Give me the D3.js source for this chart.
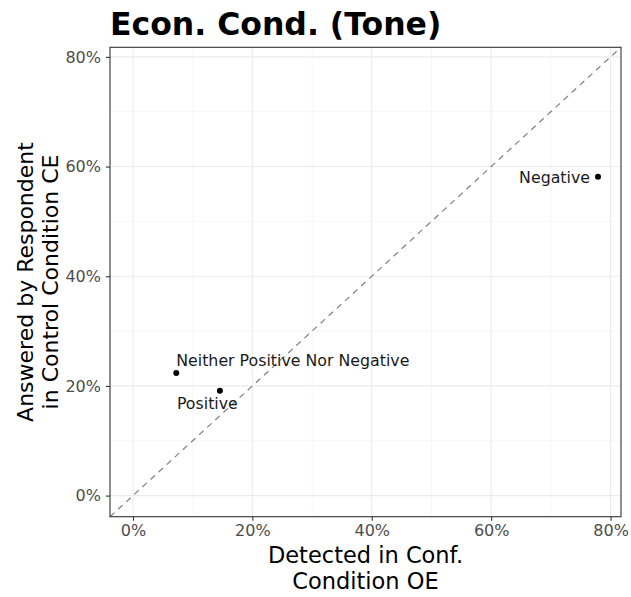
<!DOCTYPE html>
<html><head><meta charset="utf-8">
<script src="https://cdn.jsdelivr.net/npm/d3@7"></script>
<style>body{margin:0;background:#fff;} text{font-family:"DejaVu Sans",sans-serif;}</style>
</head><body>
<script>
const labels = ["Negative", "Neither Positive Nor Negative", "Positive"];
const xValues = [0.779, 0.0725, 0.1456];
const yValues = [0.5816, 0.2234, 0.191];
const tickValues = [0, 0.2, 0.4, 0.6, 0.8];
const minorTicks = [0.1, 0.3, 0.5, 0.7];
const title = "Econ. Cond. (Tone)";
const xTitle = ["Detected in Conf.", "Condition OE"];
const yTitle = ["Answered by Respondent", "in Control Condition CE"];

const W = 631, H = 597;
const P = {l: 110, r: 621, t: 47.3, b: 516.7};
const lo = -0.0385, hi = 0.8175;
const x = d3.scaleLinear().domain([lo, hi]).range([P.l, P.r]);
const y = d3.scaleLinear().domain([lo, hi]).range([P.b, P.t]);

const svg = d3.select("body").append("svg").attr("width", W).attr("height", H);

// gridlines
const g = svg.append("g");
g.selectAll(".vmin").data(minorTicks).join("line")
  .attr("x1", d => x(d)).attr("x2", d => x(d)).attr("y1", P.t).attr("y2", P.b)
  .attr("stroke", "#F2F2F2").attr("stroke-width", 0.6);
g.selectAll(".hmin").data(minorTicks).join("line")
  .attr("y1", d => y(d)).attr("y2", d => y(d)).attr("x1", P.l).attr("x2", P.r)
  .attr("stroke", "#F2F2F2").attr("stroke-width", 0.6);
g.selectAll(".vmaj").data(tickValues).join("line")
  .attr("x1", d => x(d)).attr("x2", d => x(d)).attr("y1", P.t).attr("y2", P.b)
  .attr("stroke", "#EBEBEB").attr("stroke-width", 1.1);
g.selectAll(".hmaj").data(tickValues).join("line")
  .attr("y1", d => y(d)).attr("y2", d => y(d)).attr("x1", P.l).attr("x2", P.r)
  .attr("stroke", "#EBEBEB").attr("stroke-width", 1.1);

// diagonal
svg.append("line")
  .attr("x1", x(lo)).attr("y1", y(lo)).attr("x2", x(hi)).attr("y2", y(hi))
  .attr("stroke", "#7F7F7F").attr("stroke-width", 1.2).attr("stroke-dasharray", "6,5");

// points
svg.selectAll(".pt").data(labels).join("circle")
  .attr("cx", (d, i) => x(xValues[i])).attr("cy", (d, i) => y(yValues[i]))
  .attr("r", 3).attr("fill", "#000");

// labels
const lab = [
  {dx: -8, dy: 0.5, anchor: "end"},
  {dx: 0, dy: -12.5, anchor: "start"},
  {dx: -43, dy: 12.5, anchor: "start"}
];
svg.selectAll(".lbl").data(labels).join("text")
  .attr("x", (d, i) => x(xValues[i]) + lab[i].dx)
  .attr("y", (d, i) => y(yValues[i]) + lab[i].dy)
  .attr("dy", "0.35em")
  .attr("text-anchor", (d, i) => lab[i].anchor)
  .attr("font-size", 15.8).attr("fill", "#1a1a1a")
  .text(d => d);

// panel border
svg.append("rect").attr("x", P.l).attr("y", P.t).attr("width", P.r - P.l).attr("height", P.b - P.t)
  .attr("fill", "none").attr("stroke", "#333").attr("stroke-width", 1.1);

// axes
const fmt = d3.format(".0%");
const xa = svg.append("g").attr("transform", `translate(0,${P.b})`)
  .call(d3.axisBottom(x).tickValues(tickValues).tickFormat(fmt).tickSize(4).tickPadding(4));
const ya = svg.append("g").attr("transform", `translate(${P.l},0)`)
  .call(d3.axisLeft(y).tickValues(tickValues).tickFormat(fmt).tickSize(4).tickPadding(5));
[xa, ya].forEach(a => {
  a.select(".domain").remove();
  a.selectAll(".tick line").attr("stroke", "#333").attr("stroke-width", 1.1);
  a.selectAll(".tick text").attr("fill", "#4D4D4D").attr("font-size", 16)
    .attr("font-family", "DejaVu Sans, sans-serif");
});

// titles
svg.append("text").attr("x", 110).attr("y", 35).attr("font-size", 31.5).attr("font-weight", "bold")
  .attr("fill", "#000").text(title);

const cx = (P.l + P.r) / 2;
svg.selectAll(".xt").data(xTitle).join("text")
  .attr("x", cx).attr("y", (d, i) => 562.5 + i * 26.6).attr("text-anchor", "middle")
  .attr("font-size", 22.5).attr("fill", "#000").text(d => d);

const cy = (P.t + P.b) / 2;
svg.selectAll(".yt").data(yTitle).join("text")
  .attr("transform", (d, i) => `translate(${33 + i * 24.5},${cy}) rotate(-90)`)
  .attr("text-anchor", "middle")
  .attr("font-size", 22).attr("fill", "#000").text(d => d);
</script>
</body></html>
